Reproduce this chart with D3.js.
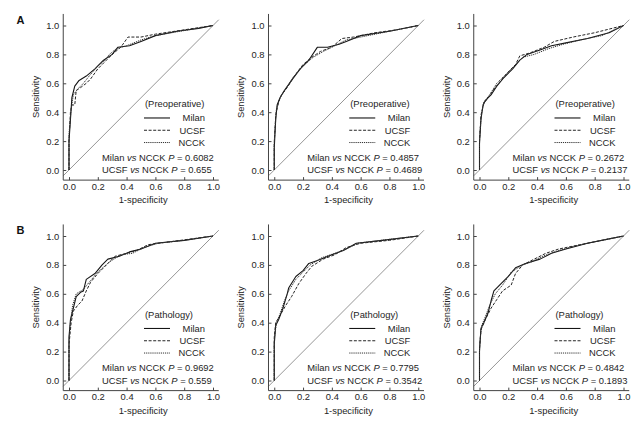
<!DOCTYPE html>
<html><head><meta charset="utf-8">
<script src="https://cdn.jsdelivr.net/npm/d3@7"></script>
<style>
body{margin:0;background:#fff;}
svg{display:block;font-family:"Liberation Sans",Arial,sans-serif;}
</style></head>
<body>
<svg id="c" width="643" height="425"></svg>
<script>
// ---- data ----
const panelLabels = ["A", "B"];
const groupNames = ["(Preoperative)", "(Preoperative)", "(Preoperative)", "(Pathology)", "(Pathology)", "(Pathology)"];
const seriesNames = ["Milan", "UCSF", "NCCK"];
const tickValues = [0, 0.2, 0.4, 0.6, 0.8, 1.0];
const pMilan = ["0.6082", "0.4857", "0.2672", "0.9692", "0.7795", "0.4842"];
const pUCSF = ["0.655", "0.4689", "0.2137", "0.559", "0.3542", "0.1893"];

// ROC points [1-specificity, sensitivity]
const milan1 = [[0,0],[0,0.2],[0.01,0.35],[0.02,0.5],[0.04,0.58],[0.07,0.62],[0.12,0.65],[0.18,0.7],[0.24,0.76],[0.3,0.8],[0.34,0.85],[0.42,0.86],[0.5,0.89],[0.6,0.93],[0.75,0.96],[0.9,0.98],[1,1]];
const ucsf1  = [[0,0],[0,0.2],[0.01,0.4],[0.02,0.45],[0.04,0.45],[0.05,0.55],[0.08,0.57],[0.12,0.6],[0.15,0.63],[0.2,0.7],[0.26,0.76],[0.3,0.8],[0.36,0.85],[0.41,0.92],[0.5,0.92],[0.6,0.94],[0.8,0.97],[1,1]];
const ncck1  = [[0,0],[0,0.25],[0.015,0.42],[0.03,0.52],[0.06,0.56],[0.1,0.6],[0.14,0.65],[0.2,0.72],[0.25,0.76],[0.28,0.8],[0.33,0.84],[0.4,0.86],[0.5,0.9],[0.6,0.93],[0.8,0.965],[1,1]];

const milan2 = [[0,0],[0,0.15],[0.01,0.35],[0.02,0.45],[0.04,0.5],[0.07,0.55],[0.12,0.62],[0.18,0.7],[0.24,0.76],[0.3,0.85],[0.37,0.85],[0.45,0.87],[0.5,0.89],[0.6,0.93],[0.8,0.96],[1,1]];
const ucsf2  = [[0,0],[0,0.18],[0.01,0.38],[0.03,0.47],[0.05,0.52],[0.09,0.57],[0.14,0.65],[0.2,0.73],[0.26,0.78],[0.32,0.82],[0.4,0.85],[0.47,0.91],[0.55,0.92],[0.7,0.95],[0.85,0.97],[1,1]];
const ncck2  = [[0,0],[0,0.2],[0.015,0.42],[0.04,0.5],[0.08,0.56],[0.13,0.64],[0.2,0.72],[0.27,0.78],[0.34,0.82],[0.42,0.86],[0.5,0.9],[0.6,0.92],[0.75,0.95],[0.9,0.98],[1,1]];

const milan3 = [[0,0],[0,0.18],[0.01,0.35],[0.025,0.45],[0.04,0.48],[0.08,0.52],[0.12,0.58],[0.17,0.64],[0.23,0.7],[0.28,0.76],[0.33,0.8],[0.42,0.83],[0.5,0.86],[0.6,0.88],[0.75,0.91],[0.9,0.95],[1,1]];
const ucsf3  = [[0,0],[0,0.2],[0.01,0.38],[0.03,0.46],[0.06,0.5],[0.1,0.56],[0.15,0.62],[0.2,0.68],[0.25,0.73],[0.28,0.79],[0.35,0.81],[0.45,0.85],[0.52,0.89],[0.65,0.92],[0.8,0.95],[1,1]];
const ncck3  = [[0,0],[0,0.22],[0.015,0.4],[0.03,0.47],[0.07,0.52],[0.12,0.6],[0.18,0.66],[0.24,0.72],[0.3,0.78],[0.38,0.8],[0.48,0.84],[0.58,0.87],[0.7,0.9],[0.85,0.93],[1,1]];

const milan4 = [[0,0],[0,0.3],[0.01,0.42],[0.03,0.5],[0.05,0.58],[0.08,0.61],[0.1,0.62],[0.12,0.7],[0.18,0.74],[0.23,0.8],[0.27,0.84],[0.35,0.86],[0.42,0.89],[0.5,0.91],[0.6,0.95],[0.8,0.97],[1,1]];
const ucsf4  = [[0,0],[0,0.25],[0.015,0.4],[0.03,0.48],[0.06,0.52],[0.09,0.55],[0.12,0.62],[0.15,0.68],[0.2,0.74],[0.26,0.8],[0.32,0.86],[0.4,0.88],[0.47,0.9],[0.55,0.94],[0.7,0.96],[1,1]];
const ncck4  = [[0,0],[0,0.28],[0.01,0.4],[0.025,0.52],[0.05,0.6],[0.1,0.63],[0.14,0.68],[0.2,0.75],[0.28,0.82],[0.36,0.87],[0.44,0.88],[0.52,0.92],[0.62,0.95],[0.8,0.97],[1,1]];

const milan5 = [[0,0],[0,0.25],[0.01,0.38],[0.03,0.42],[0.06,0.5],[0.09,0.6],[0.1,0.64],[0.15,0.72],[0.2,0.76],[0.24,0.81],[0.3,0.83],[0.4,0.87],[0.48,0.9],[0.57,0.95],[0.75,0.97],[1,1]];
const ucsf5  = [[0,0],[0,0.3],[0.01,0.4],[0.04,0.45],[0.08,0.52],[0.12,0.58],[0.17,0.67],[0.22,0.74],[0.26,0.79],[0.34,0.84],[0.42,0.87],[0.5,0.92],[0.6,0.95],[0.8,0.97],[1,1]];
const ncck5  = [[0,0],[0,0.28],[0.015,0.4],[0.04,0.46],[0.07,0.55],[0.1,0.62],[0.15,0.7],[0.2,0.75],[0.25,0.8],[0.33,0.85],[0.42,0.88],[0.5,0.91],[0.58,0.95],[0.78,0.975],[1,1]];

const milan6 = [[0,0],[0,0.2],[0.01,0.36],[0.03,0.4],[0.06,0.47],[0.08,0.55],[0.1,0.62],[0.15,0.67],[0.2,0.72],[0.25,0.78],[0.32,0.81],[0.42,0.84],[0.5,0.88],[0.6,0.91],[0.75,0.95],[0.9,0.98],[1,1]];
const ucsf6  = [[0,0],[0,0.22],[0.01,0.35],[0.04,0.42],[0.08,0.5],[0.12,0.56],[0.16,0.62],[0.22,0.66],[0.25,0.74],[0.3,0.8],[0.38,0.84],[0.46,0.88],[0.55,0.91],[0.7,0.94],[0.85,0.97],[1,1]];
const ncck6  = [[0,0],[0,0.25],[0.015,0.38],[0.04,0.44],[0.07,0.52],[0.11,0.6],[0.16,0.66],[0.22,0.75],[0.3,0.8],[0.36,0.82],[0.44,0.86],[0.55,0.9],[0.7,0.94],[0.85,0.97],[1,1]];

const panelSeries = [
  [milan1, ucsf1, ncck1], [milan2, ucsf2, ncck2], [milan3, ucsf3, ncck3],
  [milan4, ucsf4, ncck4], [milan5, ucsf5, ncck5], [milan6, ucsf6, ncck6]
];

// ---- styles ----
const seriesStyle = [
  {dash: null, color: "#151515", w: 1.1},
  {dash: "3,1.6", color: "#252525", w: 1},
  {dash: "1.2,0.9", color: "#333", w: 1}
];
const FS = 9.4;
const TXT = "#252525";

const svg = d3.select("#c");

// panel letters
panelLabels.forEach((t, r) => {
  svg.append("text").attr("x", 16.5).attr("y", 23.5 + r * 210.5)
    .attr("font-size", 11).attr("font-weight", "bold").attr("fill", "#111").text(t);
});

panelSeries.forEach((series, i) => {
  const c = i % 3, r = Math.floor(i / 3);
  const x0 = 69 + 205.25 * c;
  const yZ = 170 + 210.5 * r;
  const x = d3.scaleLinear().domain([0, 1]).range([x0, x0 + 144]);
  const y = d3.scaleLinear().domain([0, 1]).range([yZ, yZ - 144.5]);
  const g = svg.append("g");

  // diagonal reference
  g.append("line")
    .attr("x1", x(-0.04)).attr("y1", y(-0.04)).attr("x2", x(1.04)).attr("y2", y(1.04))
    .attr("stroke", "#8a8a8a").attr("stroke-width", 0.9);

  // axes
  const xa = g.append("g").attr("transform", `translate(0,${y(-0.07)})`)
    .call(d3.axisBottom(x).tickValues(tickValues).tickFormat(d3.format(".1f"))
      .tickSizeInner(-3).tickSizeOuter(0).tickPadding(3));
  xa.select(".domain").attr("d", `M${x(-0.04)},0H${x(1.04)}`);
  const ya = g.append("g").attr("transform", `translate(${x(-0.04)},0)`)
    .call(d3.axisLeft(y).tickValues(tickValues).tickFormat(d3.format(".1f"))
      .tickSizeInner(-3).tickSizeOuter(0).tickPadding(4));
  ya.select(".domain").attr("d", `M0,${y(1.08)}V${y(-0.07)}`);
  [xa, ya].forEach(a => {
    a.selectAll(".domain").attr("stroke", "#444").attr("stroke-width", 1);
    a.selectAll(".tick line").attr("stroke", "#444");
    a.selectAll("text").attr("font-size", FS).attr("fill", TXT).attr("font-family", null);
  });

  // axis titles
  g.append("text").attr("x", x(0.515)).attr("y", y(-0.23))
    .attr("text-anchor", "middle").attr("font-size", FS).attr("fill", TXT).text("1-specificity");
  g.append("text")
    .attr("transform", `translate(${x0 - 30},${(y(1.08) + y(-0.07)) / 2}) rotate(-90)`)
    .attr("text-anchor", "middle").attr("font-size", FS).attr("fill", TXT).text("Sensitivity");

  // ROC curves
  const line = d3.line().x(d => x(d[0])).y(d => y(d[1]));
  series.forEach((s, k) => {
    const st = seriesStyle[k];
    g.append("path").datum(s).attr("d", line)
      .attr("fill", "none").attr("stroke", st.color).attr("stroke-width", st.w)
      .attr("stroke-dasharray", st.dash).attr("stroke-linejoin", "round");
  });

  // legend
  const lx = x0 + 76;
  g.append("text").attr("x", lx).attr("y", y(0.435)).attr("font-size", FS).attr("fill", TXT).text(groupNames[i]);
  seriesNames.forEach((n, k) => {
    const yy = y(0.36 - k * 0.085);
    const st = seriesStyle[k];
    g.append("line").attr("x1", lx - 1).attr("x2", lx + 25).attr("y1", yy).attr("y2", yy)
      .attr("stroke", st.color).attr("stroke-width", st.w).attr("stroke-dasharray", st.dash);
    g.append("text").attr("x", x0 + 136).attr("y", yy + 3.3).attr("text-anchor", "end")
      .attr("font-size", FS).attr("fill", TXT).text(n);
  });

  // P values
  const pv = [["Milan", pMilan[i]], ["UCSF", pUCSF[i]]];
  pv.forEach((p, k) => {
    const t = g.append("text").attr("x", x0 + 33).attr("y", y(0.065 - k * 0.087))
      .attr("font-size", FS).attr("fill", TXT);
    t.append("tspan").text(p[0] + " ");
    t.append("tspan").attr("font-style", "italic").text("vs");
    t.append("tspan").text(" NCCK ");
    t.append("tspan").attr("font-style", "italic").text("P");
    t.append("tspan").text(" = " + p[1]);
  });
});
</script>
</body></html>
